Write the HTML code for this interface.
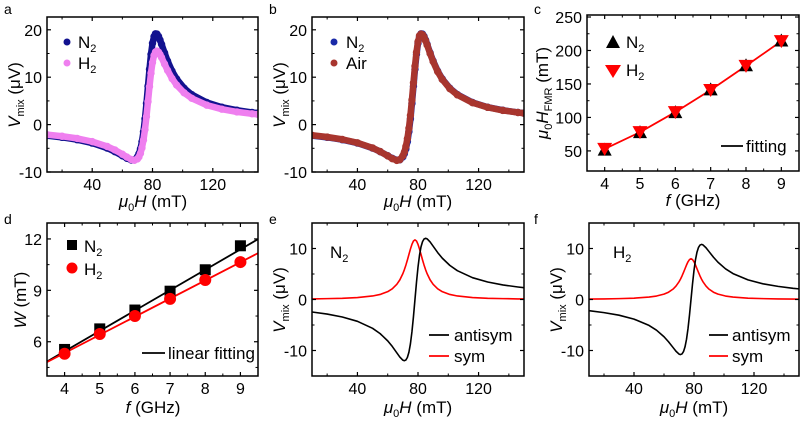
<!DOCTYPE html>
<html><head><meta charset="utf-8"><style>
html,body{margin:0;padding:0;background:#fff;}
svg{display:block;font-family:"Liberation Sans",Arial,sans-serif;}
</style></head><body>
<svg id="fig" width="801" height="421" viewBox="0 0 801 421" xmlns="http://www.w3.org/2000/svg"></svg>
<script>
// ---- data ----
const fieldH = [10,20,30,40,50,55,60,63,66,68,70,71,72,73,74,75,76,77,78,79,80,81,82,83,84,85,86,88,90,93,96,101,106,116,126,136,146,150];
const vmixN2 = [-2.33,-2.69,-3.19,-3.90,-4.96,-5.70,-6.57,-7.11,-7.48,-7.43,-6.82,-6.15,-5.11,-3.60,-1.52,1.20,4.48,8.11,11.70,14.83,17.16,18.58,19.16,19.10,18.61,17.85,16.96,15.13,13.42,11.29,9.65,7.68,6.34,4.66,3.67,3.03,2.57,2.42];
const vmixH2 = [-2.12,-2.46,-2.91,-3.59,-4.61,-5.34,-6.25,-6.85,-7.37,-7.52,-7.23,-6.80,-6.06,-4.92,-3.27,-1.06,1.69,4.82,8.00,10.86,13.11,14.58,15.33,15.52,15.28,14.80,14.17,12.78,11.43,9.71,8.35,6.70,5.55,4.11,3.25,2.68,2.28,2.16];
const vmixAir = [-2.25,-2.62,-3.12,-3.84,-4.92,-5.68,-6.60,-7.18,-7.55,-7.40,-6.60,-5.80,-4.60,-2.95,-0.80,1.95,5.20,8.80,12.30,15.30,17.50,18.75,19.10,18.95,18.45,17.70,16.82,15.00,13.30,11.18,9.55,7.60,6.28,4.62,3.64,3.00,2.55,2.40];
const antiN2 = [-2.45,-2.86,-3.43,-4.28,-5.65,-6.69,-8.11,-9.20,-10.45,-11.28,-11.89,-12.00,-11.86,-11.35,-10.34,-8.69,-6.34,-3.36,0,3.36,6.34,8.69,10.34,11.35,11.86,12.00,11.89,11.28,10.45,9.20,8.11,6.69,5.65,4.28,3.43,2.86,2.45,2.31];
const symN2 = [0.12,0.17,0.24,0.38,0.69,0.99,1.54,2.09,2.97,3.85,5.07,5.85,6.75,7.75,8.82,9.89,10.82,11.47,11.70,11.47,10.82,9.89,8.82,7.75,6.75,5.85,5.07,3.85,2.97,2.09,1.54,0.99,0.69,0.38,0.24,0.17,0.12,0.11];
const antiH2 = [-2.20,-2.57,-3.08,-3.85,-5.08,-6.02,-7.30,-8.28,-9.40,-10.15,-10.70,-10.80,-10.67,-10.22,-9.30,-7.82,-5.71,-3.02,0,3.02,5.71,7.82,9.30,10.22,10.67,10.80,10.70,10.15,9.40,8.28,7.30,6.02,5.08,3.85,3.08,2.57,2.20,2.08];
const symH2 = [0.08,0.11,0.17,0.26,0.47,0.68,1.05,1.43,2.03,2.63,3.47,4.00,4.61,5.30,6.03,6.76,7.40,7.84,8.00,7.84,7.40,6.76,6.03,5.30,4.61,4.00,3.47,2.63,2.03,1.43,1.05,0.68,0.47,0.26,0.17,0.11,0.08,0.075];
const freqs = [4,5,6,7,8,9];
const hfmrN2 = [52,78,108,142,178,215];
const hfmrH2 = [53,78,108,141,177,214];
const widthN2 = [5.55,6.75,7.85,8.95,10.2,11.6];
const widthH2 = [5.3,6.45,7.5,8.5,9.6,10.65];
const fitN2 = [1.19,0.68]; // slope, intercept
const fitH2 = [1.06,1.10];
const fieldTicks = [40,80,120];
const fieldMinor = [20,60,100,140];
const vTicksAB = [-10,0,10,20];
const vMinorAB = [-5,5,15];
const vTicksEF = [-10,0,10];
const vMinorEF = [-5,5];
const fTicks = [4,5,6,7,8,9];
const hTicks = [50,100,150,200,250];
const wTicks = [6,9,12];

const NS="http://www.w3.org/2000/svg";
const svg=document.getElementById('fig');
function el(tag,attrs,parent){const e=document.createElementNS(NS,tag);for(const k in attrs)e.setAttribute(k,attrs[k]);(parent||svg).appendChild(e);return e;}
function mkPanel(name,box,xd,yd){
  const g=el('g',{});
  
  
  const sx=v=>box[0]+(v-xd[0])/(xd[1]-xd[0])*(box[2]-box[0]);
  const sy=v=>box[3]-(v-yd[0])/(yd[1]-yd[0])*(box[3]-box[1]);
  const cp='clip-'+name;
  const d=el('defs',{},g);const c=el('clipPath',{id:cp},d);el('rect',{x:box[0],y:box[1],width:box[2]-box[0],height:box[3]-box[1]},c);
  const plot=el('g',{'clip-path':'url(#'+cp+')'},g);
  return {g,sx,sy,box,plot};
}
function axes(p,xt,xm,xl,yt,ym,yl){
  const [x0,y0,x1,y1]=p.box;
  const ax=el('g',{},p.g);
  
  
  xt.forEach((v,i)=>{const x=p.sx(v);
    el('line',{x1:x,x2:x,y1:y1,y2:y1-4,stroke:'#000','stroke-width':1.2},ax);
    el('line',{x1:x,x2:x,y1:y0,y2:y0+4,stroke:'#000','stroke-width':1.2},ax);
    const t=el('text',{x:x,y:y1+18,'text-anchor':'middle','font-size':16},ax);t.textContent=xl[i];
    
    });
  xm.forEach(v=>{const x=p.sx(v);
    el('line',{x1:x,x2:x,y1:y1,y2:y1-2.5,stroke:'#000','stroke-width':1},ax);
    el('line',{x1:x,x2:x,y1:y0,y2:y0+2.5,stroke:'#000','stroke-width':1},ax);});
  yt.forEach((v,i)=>{const y=p.sy(v);
    el('line',{x1:x0,x2:x0+4,y1:y,y2:y,stroke:'#000','stroke-width':1.2},ax);
    el('line',{x1:x1,x2:x1-4,y1:y,y2:y,stroke:'#000','stroke-width':1.2},ax);
    const t=el('text',{x:x0-5,y:y+6,'text-anchor':'end','font-size':16},ax);t.textContent=yl[i];
    
    });
  ym.forEach(v=>{const y=p.sy(v);
    el('line',{x1:x0,x2:x0+2.5,y1:y,y2:y,stroke:'#000','stroke-width':1},ax);
    el('line',{x1:x1,x2:x1-2.5,y1:y,y2:y,stroke:'#000','stroke-width':1},ax);});
  el('rect',{x:x0,y:y0,width:x1-x0,height:y1-y0,fill:'none',stroke:'#000','stroke-width':1.5},ax);
}
function path(p,xs,ys,color,w,name){
  const d=xs.map((x,i)=>(i?'L':'M')+p.sx(x).toFixed(2)+' '+p.sy(ys[i]).toFixed(2)).join(' ');
  const e=el('path',{d:d,fill:'none',stroke:color,'stroke-width':w,'stroke-linejoin':'round','stroke-linecap':'round'},p.plot);
  
  
  return e;
}
function dots(p,xs,ys,color,name){
  path(p,xs,ys,color,6.5,name+'-band');
  const g=el('g',{},p.plot);
  
  
  xs.forEach((x,i)=>{const c=el('circle',{cx:p.sx(x),cy:p.sy(ys[i]),r:3.7,fill:color},g);
    
    });
}
function txt(html,x,y,size,attrs,name){
  const t=el('text',Object.assign({x:x,y:y,'font-size':size},attrs||{}));
  t.innerHTML=html;
  
  
  return t;
}
const vmixLabel='<tspan font-style="italic">V</tspan><tspan font-size="11" dy="4">mix</tspan><tspan dy="-4"> (μV)</tspan>';
const muH='<tspan font-style="italic">μ</tspan><tspan font-size="11" dy="4">0</tspan><tspan dy="-4" font-style="italic">H</tspan> (mT)';
const sub=(a,b)=>a+'<tspan font-size="11" dy="4">'+b+'</tspan>';
const NAVY='#12128f',PINK='#ef7fef',AIR='#a8352e',RED='#ff0000';

// panel a
let p=mkPanel('panel-a',[47,17,258,172],[10,150],[-10,22.7]);
dots(p,fieldH,vmixN2,NAVY,'series-n2');
dots(p,fieldH,vmixH2,PINK,'series-h2');
axes(p,fieldTicks,fieldMinor,fieldTicks.map(String),vTicksAB,vMinorAB,vTicksAB.map(String));
txt('a',4,14,14,{},'panel-label-a');
txt(vmixLabel,0,0,17,{transform:'translate(20,95) rotate(-90)','text-anchor':'middle'},'y-axis-title');
txt(muH,153,207,17,{'text-anchor':'middle'},'x-axis-title');
el('circle',{cx:67,cy:42,r:3.5,fill:NAVY});el('circle',{cx:67,cy:63,r:3.5,fill:PINK});
txt(sub('N','2'),78,48,17,{},'legend-n2');txt(sub('H','2'),78,69,17,{},'legend-h2');

// panel b
p=mkPanel('panel-b',[312,17,524,172],[10,150],[-10,22.7]);
dots(p,fieldH,vmixN2,'#1a2aa8','series-n2');
dots(p,fieldH,vmixAir,AIR,'series-air');
axes(p,fieldTicks,fieldMinor,fieldTicks.map(String),vTicksAB,vMinorAB,vTicksAB.map(String));
txt('b',269,14,14,{},'panel-label-b');
txt(vmixLabel,0,0,17,{transform:'translate(285,95) rotate(-90)','text-anchor':'middle'},'y-axis-title');
txt(muH,418,207,17,{'text-anchor':'middle'},'x-axis-title');
el('circle',{cx:334,cy:42,r:3.5,fill:'#1a2aa8'});el('circle',{cx:334,cy:63,r:3.5,fill:AIR});
txt(sub('N','2'),346,48,17,{},'legend-n2');txt('Air',346,69,17,{},'legend-air');

// panel c
p=mkPanel('panel-c',[587,15,799,171],[3.5,9.5],[20,253]);
path(p,freqs,hfmrH2,RED,1.8,'fit-line');
freqs.forEach((f,i)=>{const x=p.sx(f),y=p.sy(hfmrN2[i]);
  const t=el('polygon',{points:`${x-7},${y+6} ${x+7},${y+6} ${x},${y-7}`,fill:'#000'},p.plot);
  
  });
freqs.forEach((f,i)=>{const x=p.sx(f),y=p.sy(hfmrH2[i]);
  const t=el('polygon',{points:`${x-7.5},${y-6} ${x+7.5},${y-6} ${x},${y+7}`,fill:RED},p.plot);
  
  });
axes(p,fTicks,[3.5,4.5,5.5,6.5,7.5,8.5,9.5],fTicks.map(String),hTicks,[75,125,175,225],hTicks.map(String));
txt('c',534,14,14,{},'panel-label-c');
txt('<tspan font-style="italic">μ</tspan><tspan font-size="11" dy="4">0</tspan><tspan dy="-4" font-style="italic">H</tspan><tspan font-size="11" dy="4">FMR</tspan><tspan dy="-4"> (mT)</tspan>',0,0,17,{transform:'translate(548,93) rotate(-90)','text-anchor':'middle'},'y-axis-title');
txt('<tspan font-style="italic">f</tspan> (GHz)',693,206,17,{'text-anchor':'middle'},'x-axis-title');
el('polygon',{points:'606,48 620,48 613,35',fill:'#000'});
el('polygon',{points:'605,65 621,65 613,78',fill:RED});
txt(sub('N','2'),626,48,17,{},'legend-n2');txt(sub('H','2'),626,76,17,{},'legend-h2');
el('line',{x1:721,x2:743,y1:146,y2:146,stroke:'#000','stroke-width':1.8});
txt('fitting',746,152,17,{},'legend-fitting');

// panel d
p=mkPanel('panel-d',[47,223,258,376],[3.5,9.5],[4.0,12.93]);
path(p,[3.5,9.5],[3.5,9.5].map(f=>fitN2[0]*f+fitN2[1]),'#000',1.8,'fit-n2');
path(p,[3.5,9.5],[3.5,9.5].map(f=>fitH2[0]*f+fitH2[1]),RED,1.8,'fit-h2');
freqs.forEach((f,i)=>{const r=el('rect',{x:p.sx(f)-5.5,y:p.sy(widthN2[i])-5.5,width:11,height:11,fill:'#000'},p.plot);
  
  });
freqs.forEach((f,i)=>{const c=el('circle',{cx:p.sx(f),cy:p.sy(widthH2[i]),r:6,fill:RED},p.plot);
  
  });
axes(p,fTicks,[3.5,4.5,5.5,6.5,7.5,8.5,9.5],fTicks.map(String),wTicks,[4.5,7.5,10.5],wTicks.map(String));
txt('d',4,224,14,{},'panel-label-d');
txt('<tspan font-style="italic">W</tspan> (mT)',0,0,17,{transform:'translate(26,300) rotate(-90)','text-anchor':'middle'},'y-axis-title');
txt('<tspan font-style="italic">f</tspan> (GHz)',153,413,17,{'text-anchor':'middle'},'x-axis-title');
el('rect',{x:67,y:240,width:10,height:10,fill:'#000'});el('circle',{cx:72,cy:268,r:5.5,fill:RED});
txt(sub('N','2'),84,252,17,{},'legend-n2');txt(sub('H','2'),84,275,17,{},'legend-h2');
el('line',{x1:142,x2:165,y1:353,y2:353,stroke:'#000','stroke-width':1.8});
txt('linear fitting',168,359,17,{},'legend-fitting');

// panel e
p=mkPanel('panel-e',[312,223,524,376],[10,150],[-15,15]);
path(p,fieldH,symN2,RED,1.6,'series-sym');
path(p,fieldH,antiN2,'#000',1.6,'series-antisym');
axes(p,fieldTicks,fieldMinor,fieldTicks.map(String),vTicksEF,vMinorEF,vTicksEF.map(String));
txt('e',269,224,14,{},'panel-label-e');
txt(vmixLabel,0,0,17,{transform:'translate(285,300) rotate(-90)','text-anchor':'middle'},'y-axis-title');
txt(muH,418,413,17,{'text-anchor':'middle'},'x-axis-title');
txt(sub('N','2'),330,258,17,{},'inset-label-n2');
el('line',{x1:429,x2:449,y1:335,y2:335,stroke:'#000','stroke-width':1.8});
el('line',{x1:429,x2:449,y1:356,y2:356,stroke:RED,'stroke-width':1.8});
txt('antisym',454,341,17,{},'legend-antisym');txt('sym',454,362,17,{},'legend-sym');

// panel f
p=mkPanel('panel-f',[589,223,799,376],[10,150],[-15,15]);
path(p,fieldH,symH2,RED,1.6,'series-sym');
path(p,fieldH,antiH2,'#000',1.6,'series-antisym');
axes(p,fieldTicks,fieldMinor,fieldTicks.map(String),vTicksEF,vMinorEF,vTicksEF.map(String));
txt('f',534,224,14,{},'panel-label-f');
txt(vmixLabel,0,0,17,{transform:'translate(562,300) rotate(-90)','text-anchor':'middle'},'y-axis-title');
txt(muH,694,413,17,{'text-anchor':'middle'},'x-axis-title');
txt(sub('H','2'),613,258,17,{},'inset-label-h2');
el('line',{x1:709,x2:728,y1:335,y2:335,stroke:'#000','stroke-width':1.8});
el('line',{x1:709,x2:728,y1:356,y2:356,stroke:RED,'stroke-width':1.8});
txt('antisym',732,341,17,{},'legend-antisym');txt('sym',732,362,17,{},'legend-sym');
</script>
</body></html>
